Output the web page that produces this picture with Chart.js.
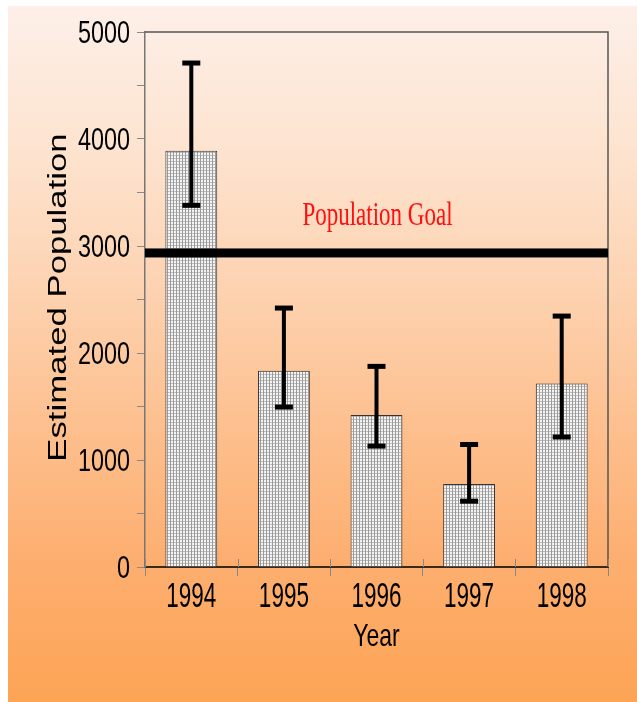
<!DOCTYPE html>
<html>
<head>
<meta charset="utf-8">
<script src="https://cdn.jsdelivr.net/npm/chart.js@4.4.0/dist/chart.umd.min.js"></script>
<style>
  html, body { margin: 0; padding: 0; background: #fff; }
  #chart { display: block; }
</style>
</head>
<body>
<canvas id="chart" width="637" height="702"></canvas>
<script>
// data
const years = ["1994", "1995", "1996", "1997", "1998"];
const estimates = [3890, 1835, 1420, 775, 1715];
const errLow = [3380, 1495, 1130, 615, 1215];
const errHigh = [4710, 2420, 1875, 1145, 2345];
const yTickLabels = [0, 1000, 2000, 3000, 4000, 5000];
const GOAL = 2935;
const goalLabel = "Population Goal";
const yTitle = "Estimated Population";
const xTitle = "Year";

const SANS = "'Liberation Sans', Arial, sans-serif";

// dotted grey fill like the old bar hatch
function makeHatch() {
  const c = document.createElement("canvas");
  c.width = 3;
  c.height = 3;
  const g = c.getContext("2d");
  g.fillStyle = "#f4f4f4";
  g.fillRect(0, 0, 3, 3);
  g.fillStyle = "#9a9a9a";
  g.fillRect(2, 0, 1, 3);
  g.fillStyle = "#bdbdbd";
  g.fillRect(0, 2, 2, 1);
  return g.createPattern(c, "repeat");
}

// text squashed sideways, like the original bitmap
function stretchedText(c, text, x, y, sx, sy) {
  c.save();
  c.translate(x, y);
  c.scale(sx, sy);
  c.fillText(text, 0, 0);
  c.restore();
}

const ctx = document.getElementById("chart").getContext("2d");

const backgroundPlugin = {
  id: "bg",
  beforeDraw(chart) {
    const c = chart.ctx;
    const w = chart.width, h = chart.height;
    c.save();
    c.fillStyle = "#ffffff";
    c.fillRect(0, 0, w, h);
    const grad = c.createLinearGradient(0, 6, 0, h);
    grad.addColorStop(0.0, "#fdefe9");
    grad.addColorStop(0.2, "#fde4d0");
    grad.addColorStop(0.4, "#fdd3b2");
    grad.addColorStop(0.6, "#fdc08f");
    grad.addColorStop(0.8, "#fdae6f");
    grad.addColorStop(1.0, "#fda455");
    c.fillStyle = grad;
    c.fillRect(8, 6, w - 8, h - 6);
    c.restore();
  },
};

const decorPlugin = {
  id: "decor",
  afterDraw(chart) {
    const c = chart.ctx;
    const area = chart.chartArea;
    const x = chart.scales.x;
    const y = chart.scales.y;
    c.save();

    // frame on top and right
    c.strokeStyle = "#555";
    c.lineWidth = 1.5;
    c.beginPath();
    c.moveTo(area.left, area.top);
    c.lineTo(area.right, area.top);
    c.lineTo(area.right, area.bottom);
    c.stroke();

    // tick marks cross the x axis
    c.strokeStyle = "#888";
    c.lineWidth = 1;
    for (let i = 0; i <= years.length; i++) {
      const px = Math.round(x.getPixelForValue(i - 0.5)) + 0.5;
      c.beginPath();
      c.moveTo(px, area.bottom - 8);
      c.lineTo(px, area.bottom);
      c.stroke();
    }

    // goal line
    const gy = y.getPixelForValue(GOAL);
    c.fillStyle = "#000";
    c.fillRect(area.left, gy - 4.5, area.right - area.left, 9);

    c.fillStyle = "#ff1010";
    c.font = "23px 'Liberation Serif', 'Times New Roman', serif";
    c.textAlign = "center";
    c.textBaseline = "alphabetic";
    stretchedText(c, goalLabel, (area.left + area.right) / 2 + 1, gy - 28, 1, 1.45);

    // error bars
    c.fillStyle = "#000";
    years.forEach((yr, i) => {
      const cx = x.getPixelForValue(i);
      const top = y.getPixelForValue(errHigh[i]);
      const bot = y.getPixelForValue(errLow[i]);
      c.fillRect(cx - 2, top, 4, bot - top);
      c.fillRect(cx - 9, top - 2.5, 18, 5);
      c.fillRect(cx - 9, bot - 2.5, 18, 5);
    });

    // tick labels
    c.fillStyle = "#000";
    c.font = "23.4px " + SANS;
    c.textAlign = "right";
    c.textBaseline = "alphabetic";
    yTickLabels.forEach((v) => {
      const py = y.getPixelForValue(v);
      stretchedText(c, String(v), 130, py + 11, 1, 1.31);
    });

    c.font = "22.5px " + SANS;
    c.textAlign = "center";
    years.forEach((yr, i) => {
      stretchedText(c, yr, x.getPixelForValue(i), area.bottom + 40, 1, 1.55);
    });

    // axis titles
    c.font = "23px " + SANS;
    stretchedText(c, xTitle, (area.left + area.right) / 2, area.bottom + 79, 1, 1.4);

    c.font = "25px " + SANS;
    c.textBaseline = "middle";
    c.save();
    c.translate(59, (area.top + area.bottom) / 2 - 2);
    c.rotate(-Math.PI / 2);
    c.scale(1.39, 1);
    c.fillText(yTitle, 0, 0);
    c.restore();

    c.restore();
  },
};

new Chart(ctx, {
  type: "bar",
  data: {
    labels: years,
    datasets: [
      {
        label: "Estimated Population",
        data: estimates,
        backgroundColor: makeHatch(),
        borderColor: "#333",
        borderWidth: 1,
        borderSkipped: "bottom",
        barPercentage: 0.56,
        categoryPercentage: 1.0,
      },
    ],
  },
  options: {
    responsive: false,
    animation: false,
    events: [],
    layout: {
      padding: { left: 0, right: 29, top: 32, bottom: 0 },
    },
    plugins: {
      legend: { display: false },
      tooltip: { enabled: false },
    },
    scales: {
      x: {
        type: "category",
        offset: true,
        grid: {
          offset: true,
          drawOnChartArea: false,
          drawTicks: true,
          tickLength: 9,
          color: "#888",
        },
        border: { display: true, color: "#3a2a1a", width: 2 },
        ticks: { display: false },
        afterFit(scale) {
          scale.height = 135;
        },
      },
      y: {
        min: 0,
        max: 5000,
        grid: {
          drawOnChartArea: false,
          drawTicks: true,
          tickLength: 8,
          color: "#888",
        },
        border: { display: true, color: "#777", width: 1.5 },
        ticks: { display: false, stepSize: 500 },
        afterFit(scale) {
          scale.width = 145;
        },
      },
    },
  },
  plugins: [backgroundPlugin, decorPlugin],
});
</script>
</body>
</html>
